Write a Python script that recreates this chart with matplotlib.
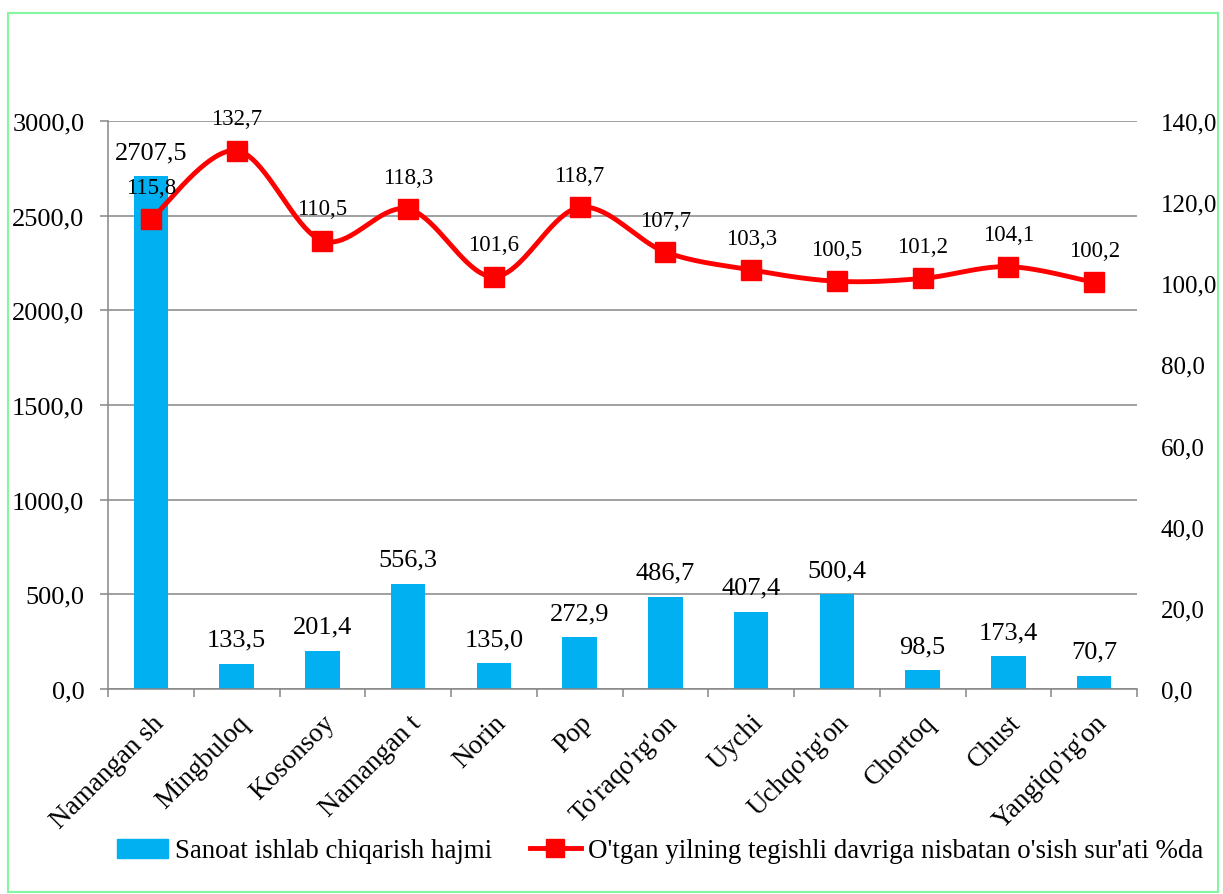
import numpy as np
import matplotlib.pyplot as plt
from matplotlib.patches import Rectangle, Patch
from matplotlib.lines import Line2D
from matplotlib.ticker import FuncFormatter

# Data
districts = ["Namangan sh", "Mingbuloq", "Kosonsoy", "Namangan t", "Norin", "Pop",
             "To'raqo'rg'on", "Uychi", "Uchqo'rg'on", "Chortoq", "Chust", "Yangiqo'rg'on"]
volume = [2707.5, 133.5, 201.4, 556.3, 135.0, 272.9, 486.7, 407.4, 500.4, 98.5, 173.4, 70.7]
growth = [115.8, 132.7, 110.5, 118.3, 101.6, 118.7, 107.7, 103.3, 100.5, 101.2, 104.1, 100.2]

bar_label = "Sanoat ishlab chiqarish hajmi"
line_label = "O'tgan yilning tegishli davriga nisbatan o'sish sur'ati %da"

BLUE = "#00B0F0"
RED = "#FF0000"
GRID = "#868686"

plt.rcParams['font.family'] = ['Liberation Serif', 'DejaVu Serif']


def comma(v, pos=None):
    return f"{v:.1f}".replace(".", ",")


def smooth(xs, ys, n=40):
    # Bezier smoothing like a spreadsheet "smoothed line"
    pts = np.column_stack([xs, ys]).astype(float)
    out = []
    for i in range(len(pts) - 1):
        p0 = pts[max(i - 1, 0)]
        p1 = pts[i]
        p2 = pts[i + 1]
        p3 = pts[min(i + 2, len(pts) - 1)]
        c1 = p1 + (p2 - p0) / 6
        c2 = p2 - (p3 - p1) / 6
        t = np.linspace(0, 1, n)[:, None]
        seg = (1 - t) ** 3 * p1 + 3 * (1 - t) ** 2 * t * c1 + 3 * (1 - t) * t ** 2 * c2 + t ** 3 * p2
        out.append(seg if i == 0 else seg[1:])
    return np.vstack(out)


fig = plt.figure(figsize=(12.23, 8.95), dpi=100)
ax = fig.add_axes([108 / 1223, 1 - 690 / 895, (1137 - 108) / 1223, (690 - 122) / 895])

x = np.arange(len(districts))

# bars (left axis)
ax.bar(x, volume, width=0.4, color=BLUE, zorder=2)
ax.set_ylim(0, 3000)
ax.set_xlim(-0.5, len(districts) - 0.5)
ax.set_yticks(np.arange(0, 3001, 500))
ax.yaxis.set_major_formatter(FuncFormatter(comma))
ax.grid(axis='y', color=GRID, lw=1.1, zorder=0)
ax.set_axisbelow(True)

for s in ['top', 'right']:
    ax.spines[s].set_visible(False)
for s in ['left', 'bottom']:
    ax.spines[s].set_color(GRID)
    ax.spines[s].set_linewidth(1.1)

ax.tick_params(axis='y', length=6, width=1.1, color=GRID, pad=11, labelsize=19)
ax.set_xticks(x)
ax.set_xticklabels(districts, rotation=45, ha='right', va='top', rotation_mode='anchor', fontsize=19.5)
ax.tick_params(axis='x', which='major', length=0, pad=15)
ax.set_xticks(np.arange(-0.5, len(districts), 1), minor=True)
ax.tick_params(axis='x', which='minor', length=6, width=1.1, color=GRID)

for xi, v in zip(x, volume):
    ax.annotate(comma(v), (xi, v), xytext=(0, 13), textcoords='offset points',
                ha='center', va='baseline', fontsize=19)

# line (right axis)
ax2 = ax.twinx()
ax2.set_ylim(0, 140)
ax2.set_yticks(np.arange(0, 141, 20))
ax2.yaxis.set_major_formatter(FuncFormatter(comma))
ax2.tick_params(axis='y', length=0, pad=17, labelsize=18)
for s in ax2.spines.values():
    s.set_visible(False)

curve = smooth(x, growth)
ax2.plot(curve[:, 0], curve[:, 1], color=RED, lw=3.5, solid_capstyle='round', zorder=3)
ax2.plot(x, growth, 's', color=RED, markersize=15, zorder=4)

for xi, v in zip(x, growth):
    ax2.annotate(comma(v), (xi, v), xytext=(0, 19), textcoords='offset points',
                 ha='center', va='baseline', fontsize=16.5)

handles = [Patch(color=BLUE, label=bar_label),
           Line2D([], [], color=RED, lw=3.5, marker='s', markersize=13, label=line_label)]
fig.legend(handles=handles, loc='center', bbox_to_anchor=(660 / 1223, 1 - 852 / 895), ncol=2,
           frameon=False, fontsize=19.4, handlelength=1.9, handletextpad=0.25, columnspacing=1.4)

# light green frame around the chart
fig.patches.append(Rectangle((8 / 1223, 2 / 895), 1210 / 1223, 879 / 895, transform=fig.transFigure,
                             fill=False, edgecolor='#86F5A2', lw=1.5))

fig.savefig('out.png', dpi=100)
